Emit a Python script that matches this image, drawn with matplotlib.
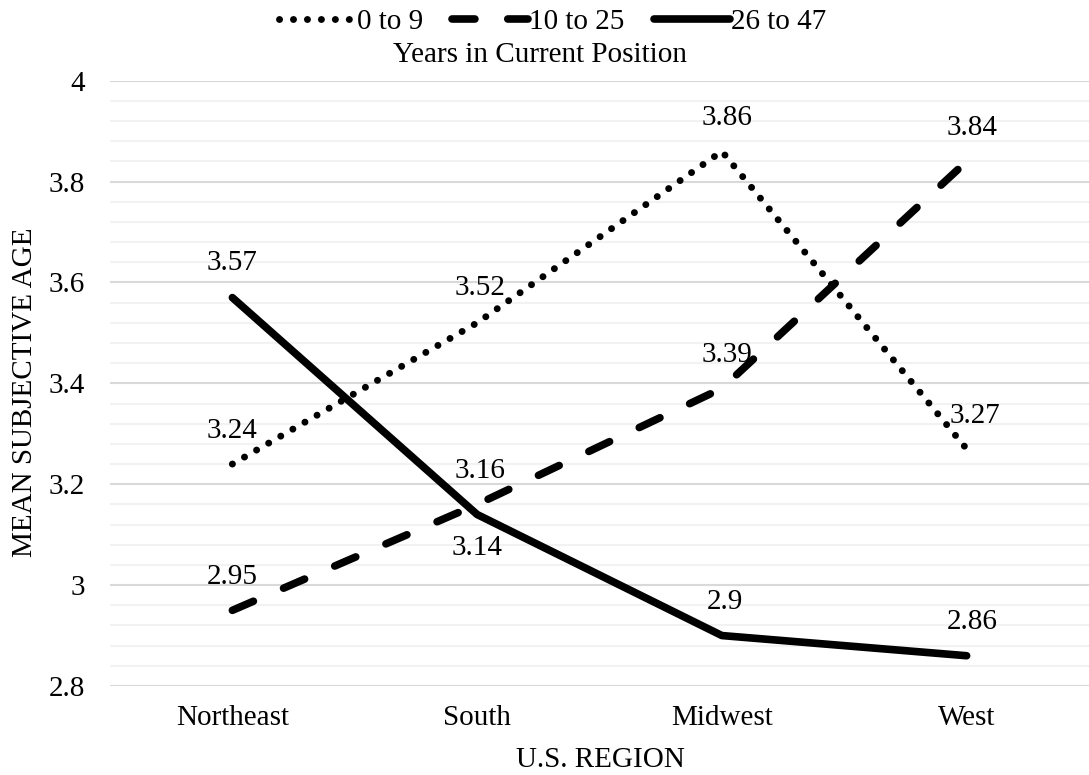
import numpy as np
import matplotlib
matplotlib.use("Agg")
import matplotlib.pyplot as plt
from matplotlib.ticker import MultipleLocator

# data
regions = ["Northeast", "South", "Midwest", "West"]
years_0_9 = [3.24, 3.52, 3.86, 3.27]
years_10_25 = [2.95, 3.16, 3.39, 3.84]
years_26_47 = [3.57, 3.14, 2.90, 2.86]
series_names = ["0 to 9", "10 to 25", "26 to 47"]

# label offsets in points (dx, dy) relative to each point
offsets_0_9 = [(0, 24), (2, 25), (4, 24), (6, 24)]
offsets_10_25 = [(0, 24), (2, 24), (4, 24), (4, 24)]
offsets_26_47 = [(0, 25), (0, -24), (2, 24), (4, 24)]

plt.rcParams["font.family"] = ["Liberation Serif", "DejaVu Serif"]
plt.rcParams["font.size"] = 21

fig = plt.figure(figsize=(10.89, 7.75), dpi=100)
ax = fig.add_axes([110 / 1089, 1 - 686 / 775, 1 - 110 / 1089, (686 - 80.7) / 775])

x = np.arange(len(regions))

styles = [
    dict(lw=5.0, dashes=(0.01, 2.0), dash_capstyle="round"),
    dict(lw=5.5, dashes=(3.0, 4.3), dash_capstyle="round"),
    dict(lw=5.5, solid_capstyle="round", solid_joinstyle="round"),
]
all_series = [years_0_9, years_10_25, years_26_47]
all_offsets = [offsets_0_9, offsets_10_25, offsets_26_47]

handles = []
for vals, name, st in zip(all_series, series_names, styles):
    h, = ax.plot(x, vals, color="black", label=name, **st)
    handles.append(h)

for vals, offs in zip(all_series, all_offsets):
    for xi, v, (dx, dy) in zip(x, vals, offs):
        ax.annotate(f"{v:g}", (xi, v), xytext=(dx, dy), textcoords="offset points",
                    ha="center", va="center", fontsize=21)

ax.set_xlim(-0.5, 3.5)
ax.set_ylim(2.8, 4.0)
ax.set_xticks(x)
ax.set_xticklabels(regions)
ax.yaxis.set_major_locator(MultipleLocator(0.2))
ax.yaxis.set_minor_locator(MultipleLocator(0.04))
ax.set_yticks([2.8, 3.0, 3.2, 3.4, 3.6, 3.8, 4.0])
ax.set_yticklabels(["2.8", "3", "3.2", "3.4", "3.6", "3.8", "4"])
ax.grid(True, which="major", axis="y", color="#d9d9d9", lw=1.5)
ax.grid(True, which="minor", axis="y", color="#f2f2f2", lw=1.5)
ax.set_axisbelow(True)
ax.tick_params(axis="both", which="both", length=0)
ax.tick_params(axis="y", pad=18)
ax.tick_params(axis="x", pad=14)
for sp in ax.spines.values():
    sp.set_visible(False)

fig.text(600 / 1089, 1 - 760 / 775, "U.S. REGION", ha="center", va="center", fontsize=21)
fig.text(25 / 1089, 1 - 392 / 775, "MEAN SUBJECTIVE AGE", ha="center", va="center",
         rotation=90, fontsize=21)
fig.text(540 / 1089, 1 - 55 / 775, "Years in Current Position", ha="center", va="center",
         fontsize=21)

fig.legend(handles=handles, loc="center", bbox_to_anchor=(553 / 1089, 1 - 22 / 775),
           ncol=3, frameon=False, handlelength=2.6, handletextpad=0.05,
           columnspacing=1.0, fontsize=21, borderpad=0)

fig.savefig("out.png", dpi=100)
